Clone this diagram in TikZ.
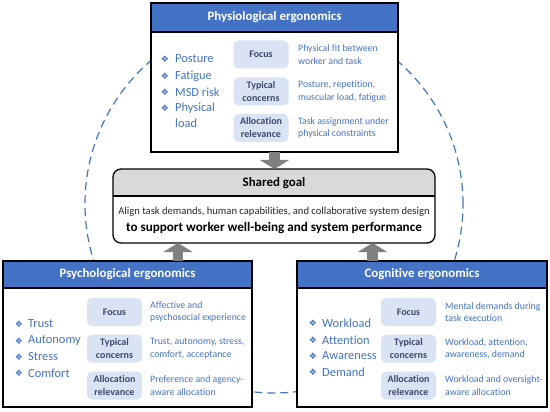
\documentclass[tikz,border=0pt]{standalone}
\usepackage{fontspec}
\setmainfont{Carlito}[Ligatures=CommonOff]
\newfontfamily\dejavu{DejaVu Sans}
\usetikzlibrary{arrows.meta,calc}
\definecolor{hblue}{HTML}{4472C4}
\definecolor{tblue}{HTML}{4472C4}
\definecolor{pillfill}{HTML}{DAE3F3}
\definecolor{pilltext}{HTML}{3B4A6B}
\definecolor{arrowgray}{HTML}{808080}
\definecolor{goalgray}{HTML}{D9D9D9}
\definecolor{darktext}{HTML}{262626}
\tikzset{
  panel/.style={draw=black, line width=1.3pt, fill=white, anchor=north west, inner sep=0pt, outer sep=0pt},
  head/.style={draw=black, line width=1.3pt, fill=hblue, anchor=north west, inner sep=0pt, outer sep=0pt,
    text=white, font=\fontsize{12.9}{14}\selectfont\bfseries},
  pillbox/.style={fill=pillfill, rounded corners=5pt, minimum width=55pt, minimum height=28pt, inner sep=0pt,
    align=center, text=pilltext, font=\fontsize{10}{13}\selectfont\bfseries},
  desc/.style={anchor=west, inner sep=0pt, align=left, text=tblue, font=\fontsize{9.8}{12.3}\selectfont},
  item/.style={anchor=west, inner sep=0pt, text=tblue, font=\fontsize{12.4}{14}\selectfont},
  bul/.style={anchor=center, inner sep=0pt, text=tblue, font=\dejavu\fontsize{9}{9}\selectfont},
  fatarrow/.style={draw=arrowgray, line width=10.5pt, -{Triangle[width=29pt,length=9pt]}},
  ring/.style={draw=hblue, line width=1.2pt, dash pattern=on 8pt off 5pt},
}
\begin{document}
\begin{tikzpicture}[x=1pt,y=-1pt]
\useasboundingbox (0,0) rectangle (550,412);
\fill[white] (0,0) rectangle (550,412);

% dashed ring behind everything
\draw[ring] (274,204) circle[radius=189pt];

% ---------- Physiological ----------
\node[panel, minimum width=247pt, minimum height=149pt] (phys) at (151,3) {};
\node[head, minimum width=247pt, minimum height=29pt] (physh) at (151,3) {Physiological ergonomics};
\foreach \t/\y [count=\i] in {Posture/59, Fatigue/76, MSD risk/92, Physical/108} {
  \node[bul] (pb\i) at (165,\y) {❖};
  \node[item] (pi\i) at (175,\y) {\t};
}
\node[item] (pi5) at (175,123) {load};
\node[pillbox] (pf) at (261,54.5) {Focus};
\node[pillbox] (pt) at (261,91.5) {Typical\\concerns};
\node[pillbox] (pa) at (261,128) {Allocation\\relevance};
\node[desc] (pfd) at (298,54.5) {Physical fit between\\worker and task};
\node[desc] (ptd) at (298,91.5) {Posture, repetition,\\muscular load, fatigue};
\node[desc] (pad) at (298,128) {Task assignment under\\physical constraints};

% ---------- Shared goal ----------
\fill[white, rounded corners=8pt] (113,169) rectangle (435,243);
\begin{scope}
  \clip[rounded corners=8pt] (113,169) rectangle (435,243);
  \fill[goalgray] (113,169) rectangle (435,196);
\end{scope}
\draw[line width=1.2pt] (113,196) -- (435,196);
\node[draw=black, line width=1.3pt, rounded corners=8pt, minimum width=322pt, minimum height=74pt,
  anchor=north west, inner sep=0pt, outer sep=0pt] (goal) at (113,169) {};
\node[font=\fontsize{12.9}{14}\selectfont\bfseries, inner sep=0pt] (goalt) at (274,183) {Shared goal};
\node[font=\fontsize{10.6}{12}\selectfont, text=darktext, inner sep=0pt] (goal1) at (274,212)
  {Align task demands, human capabilities, and collaborative system design};
\node[font=\fontsize{13.1}{15}\selectfont\bfseries, inner sep=0pt] (goal2) at (274,228.5)
  {to support worker well-being and system performance};

% ---------- Psychological ----------
\node[panel, minimum width=249pt, minimum height=146pt] (psy) at (3,261) {};
\node[head, minimum width=249pt, minimum height=27pt] (psyh) at (3,261) {Psychological ergonomics};
\foreach \t/\y [count=\i] in {Trust/324, Autonomy/341, Stress/357, Comfort/373} {
  \node[bul] (sb\i) at (19,\y) {❖};
  \node[item] (si\i) at (28,\y) {\t};
}
\node[pillbox] (sf) at (114.5,312) {Focus};
\node[pillbox] (st) at (114.5,348.5) {Typical\\concerns};
\node[pillbox] (sa) at (114.5,385.5) {Allocation\\relevance};
\node[desc] (sfd) at (150,312) {Affective and\\psychosocial experience};
\node[desc] (std) at (150,348.5) {Trust, autonomy, stress,\\comfort, acceptance};
\node[desc] (sad) at (150,385.5) {Preference and agency-\\aware allocation};

% ---------- Cognitive ----------
\node[panel, minimum width=250pt, minimum height=146pt] (cog) at (297,261) {};
\node[head, minimum width=250pt, minimum height=27pt] (cogh) at (297,261) {Cognitive ergonomics};
\foreach \t/\y [count=\i] in {Workload/323, Attention/340, Awareness/356, Demand/372} {
  \node[bul] (cb\i) at (313,\y) {❖};
  \node[item] (ci\i) at (322,\y) {\t};
}
\node[pillbox] (cf) at (408.5,312) {Focus};
\node[pillbox] (ct) at (408.5,348.5) {Typical\\concerns};
\node[pillbox] (ca) at (408.5,385.5) {Allocation\\relevance};
\node[desc] (cfd) at (445,312) {Mental demands during\\task execution};
\node[desc] (ctd) at (445,348.5) {Workload, attention,\\awareness, demand};
\node[desc] (cad) at (445,385.5) {Workload and oversight-\\aware allocation};

% ---------- arrows ----------
\draw[fatarrow] (phys.south) -- (phys.south |- goal.north);
\draw[fatarrow] ([xshift=50.5pt]psyh.north) -- ([xshift=50.5pt]psyh.north |- goal.south);
\draw[fatarrow] ([xshift=-49.5pt]cogh.north) -- ([xshift=-49.5pt]cogh.north |- goal.south);
\end{tikzpicture}
\end{document}
